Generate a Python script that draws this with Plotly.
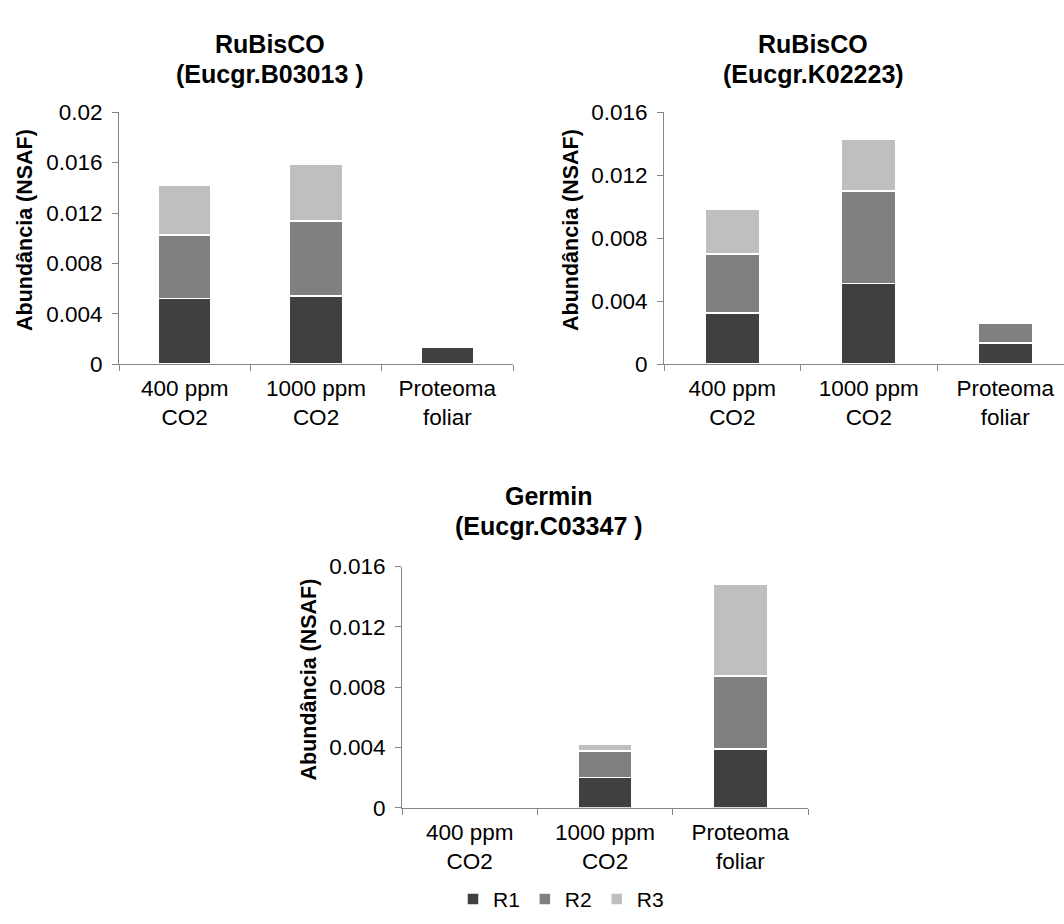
import plotly.graph_objects as go

# ---- data ----
categories = ["400 ppm<br>CO2", "1000 ppm<br>CO2", "Proteoma<br>foliar"]
series_names = ["R1", "R2", "R3"]
colors = ["#404040", "#808080", "#bfbfbf"]

# Chart 1: RuBisCO (Eucgr.B03013 )
c1_r1 = [0.00522, 0.00542, 0.00131]
c1_r2 = [0.00503, 0.00596, 0.0]
c1_r3 = [0.00393, 0.00447, 0.0]

# Chart 2: RuBisCO (Eucgr.K02223)
c2_r1 = [0.00325, 0.00514, 0.00134]
c2_r2 = [0.00374, 0.00586, 0.00127]
c2_r3 = [0.00288, 0.00330, 0.0]

# Chart 3: Germin (Eucgr.C03347 )
c3_r1 = [0.0, 0.00200, 0.00391]
c3_r2 = [0.0, 0.00178, 0.00482]
c3_r3 = [0.0, 0.00043, 0.00607]

title_line1 = ["RuBisCO", "RuBisCO", "Germin"]
title_line2 = ["(Eucgr.B03013 )", "(Eucgr.K02223)", "(Eucgr.C03347 )"]
y_title = "Abundância (NSAF)"

W, H = 1064, 924
FONT = "Liberation Sans, Arial, sans-serif"

def px_x(p):
    return p / W

def px_y(p):
    return 1 - p / H

fig = go.Figure()

charts = [
    (c1_r1, c1_r2, c1_r3, "x", "y"),
    (c2_r1, c2_r2, c2_r3, "x2", "y2"),
    (c3_r1, c3_r2, c3_r3, "x3", "y3"),
]
for ci, (r1, r2, r3, xa, ya) in enumerate(charts):
    for si, vals in enumerate([r1, r2, r3]):
        fig.add_trace(go.Bar(
            x=categories, y=vals, name=series_names[si],
            marker=dict(color=colors[si], line=dict(color="white", width=1.5)),
            xaxis=xa, yaxis=ya, showlegend=(ci == 2), legendgroup=series_names[si],
        ))

axis_line = "#868686"
TICK_SIZE = 22.5
tickfont = dict(family=FONT, size=TICK_SIZE, color="#000000")

def xaxis(domain, anchor, rng):
    return dict(domain=domain, anchor=anchor, type="category", range=rng,
                showline=True, linecolor=axis_line, linewidth=1,
                ticks="outside", tickson="boundaries", ticklen=6, tickcolor=axis_line,
                ticklabelstandoff=4,
                showgrid=False, zeroline=False, tickfont=tickfont, fixedrange=True)

def yaxis(domain, anchor, ymax):
    return dict(domain=domain, anchor=anchor, range=[0, ymax], dtick=0.004,
                showline=True, linecolor=axis_line, linewidth=1,
                ticks="outside", ticklen=6, tickcolor=axis_line,
                ticklabelstandoff=5,
                showgrid=False, zeroline=False, tickfont=tickfont, fixedrange=True)

c1 = dict(x0=119, x1=513, top=103, bot=362)
c2 = dict(x0=664, x1=1064, top=103, bot=362)
c3 = dict(x0=402, x1=808, top=570, bot=818)

c2_catw = 136.5
c2_rmax = -0.5 + (c2["x1"] - c2["x0"]) / c2_catw

fig.update_layout(
    width=W, height=H, margin=dict(l=0, r=0, t=0, b=0),
    paper_bgcolor="white", plot_bgcolor="white",
    barmode="stack", bargap=0.6,
    font=dict(family=FONT, color="#000000"),
    xaxis=xaxis([px_x(c1["x0"]), px_x(c1["x1"])], "y", [-0.5, 2.5]),
    yaxis=yaxis([px_y(c1["bot"]), px_y(c1["top"])], "x", 0.02),
    xaxis2=xaxis([px_x(c2["x0"]), px_x(c2["x1"])], "y2", [-0.5, c2_rmax]),
    yaxis2=yaxis([px_y(c2["bot"]), px_y(c2["top"])], "x2", 0.016),
    xaxis3=xaxis([px_x(c3["x0"]), px_x(c3["x1"])], "y3", [-0.5, 2.5]),
    yaxis3=yaxis([px_y(c3["bot"]), px_y(c3["top"])], "x3", 0.016),
    legend=dict(orientation="h", x=px_x(453), xanchor="left", y=px_y(912), yanchor="middle",
                font=dict(family=FONT, size=21, color="#000000"), traceorder="normal",
                itemwidth=30, tracegroupgap=0,
                bgcolor="rgba(0,0,0,0)"),
)

ann = []
title_cx = [270, 813, 549]
title_cy = [(33, 64), (33, 64), (497, 528)]
for l1, l2, cx, (y1, y2) in zip(title_line1, title_line2, title_cx, title_cy):
    for txt, cy in ((l1, y1), (l2, y2)):
        ann.append(dict(text="<b>" + txt + "</b>", x=px_x(cx), y=px_y(cy),
                        xref="paper", yref="paper", showarrow=False,
                        xanchor="center", yanchor="middle",
                        font=dict(family=FONT, size=25, color="#000000")))
ytitle_pos = [(25, 224), (571, 224), (309, 686)]
for (cx, cy) in ytitle_pos:
    ann.append(dict(text="<b>" + y_title + "</b>", x=px_x(cx), y=px_y(cy), xref="paper", yref="paper",
                    showarrow=False, textangle=-90, xanchor="center", yanchor="middle",
                    font=dict(family=FONT, size=21.5, color="#000000")))
fig.update_layout(annotations=ann)

fig.write_html("out.html")
